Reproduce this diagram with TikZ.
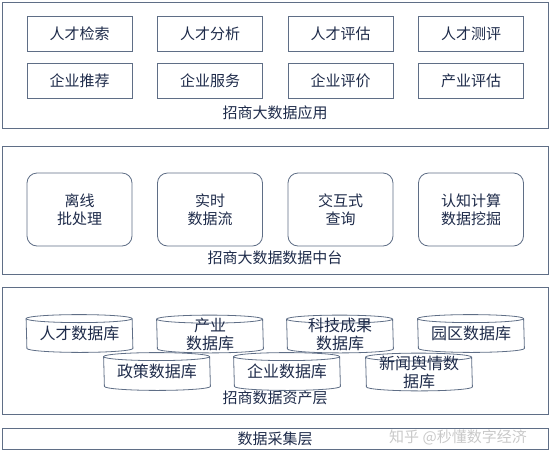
\documentclass[tikz,border=0pt]{standalone}
\usepackage{fontspec}
\usepackage{xcolor}
\usepackage{tikz}
\newfontfamily\cjk{Noto Sans CJK SC}
\definecolor{line1}{HTML}{5F6E86}
\definecolor{text1}{HTML}{1E2B4A}
\definecolor{mark1}{HTML}{C9C9C9}

\begin{document}
\begin{tikzpicture}[x=1pt, y=-1pt, line width=0.8pt,
  every node/.style={font=\cjk\fontsize{15}{18}\selectfont, text=text1, align=center},
  layer/.style={draw=line1, inner sep=0pt},
  appbox/.style={draw=line1, fill=white, minimum width=105pt, minimum height=35pt, inner sep=0pt},
  midbox/.style={draw=line1, fill=white, rounded corners=10pt, minimum width=105pt, minimum height=73pt, inner sep=0pt},
  db/.style={minimum width=106pt, minimum height=37pt, inner sep=0pt,
    font=\cjk\fontsize{16}{18}\selectfont,
    append after command={\pgfextra{
      \draw[line1] ([yshift=-4pt]\tikzlastnode.north west)
        arc[start angle=180, end angle=0, x radius=53pt, y radius=4pt]
        -- ([yshift=4pt]\tikzlastnode.south east)
        arc[start angle=0, end angle=-180, x radius=53pt, y radius=4pt] -- cycle;
      \draw[line1] ([yshift=-4pt]\tikzlastnode.north west)
        arc[start angle=180, end angle=360, x radius=53pt, y radius=4pt];
    }}}]

  \useasboundingbox (0,0) rectangle (550,451);

  % application layer
  \node[layer, minimum width=546pt, minimum height=126pt] (app) at (275,65) {};
  \node (applab) at (275,113) {招商大数据应用};

  \node[appbox] (rcjs) at (79.5,33.5) {人才检索};
  \node[appbox] (rcfx) at (210,33.5) {人才分析};
  \node[appbox] (rcpg) at (340.5,33.5) {人才评估};
  \node[appbox] (rccp) at (471,33.5) {人才测评};
  \node[appbox] (qytj) at (79.5,81) {企业推荐};
  \node[appbox] (qyfw) at (210,81) {企业服务};
  \node[appbox] (qypj) at (340.5,81) {企业评价};
  \node[appbox] (cypg) at (471,81) {产业评估};

  % data middle platform
  \node[layer, minimum width=546pt, minimum height=128pt] (mid) at (275,210) {};
  \node (midlab) at (275,258) {招商大数据数据中台};

  \node[midbox] (lx) at (79.5,209.5) {离线\\批处理};
  \node[midbox] (ss) at (210,209.5) {实时\\数据流};
  \node[midbox] (jh) at (340.5,209.5) {交互式\\查询};
  \node[midbox] (rz) at (471,209.5) {认知计算\\数据挖掘};

  % data asset layer
  \node[layer, minimum width=546pt, minimum height=127pt] (asset) at (275,350.5) {};
  \node (assetlab) at (275,398) {招商数据资产层};

  \node[db] (rcdb) at (79.5,333.5) {人才数据库};
  \node[db] (cydb) at (210,334) {产业\\数据库};
  \node[db] (kjdb) at (340,334) {科技成果\\数据库};
  \node[db] (yqdb) at (471,333.5) {园区数据库};
  \node[db] (zcdb) at (157,371.5) {政策数据库};
  \node[db] (qydb) at (287,371.5) {企业数据库};
  \node[db] (xwdb) at (419,372) {新闻舆情数\\据库};

  % data collection layer
  \node[layer, minimum width=546pt, minimum height=21pt] (collect) at (275,438.5) {数据采集层};
  \node[text=mark1] (mark) at (458,437) {知乎 @秒懂数字经济};

\end{tikzpicture}
\end{document}
